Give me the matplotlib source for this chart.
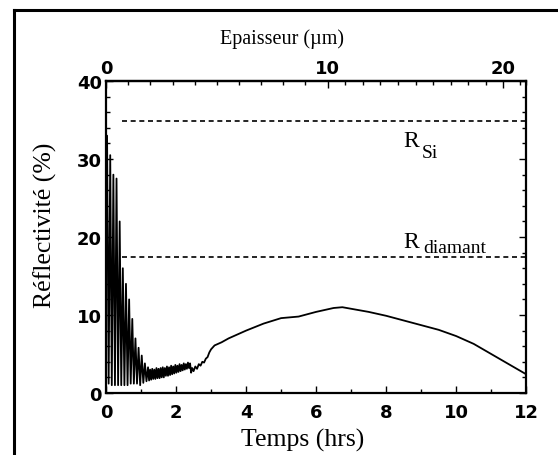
import numpy as np
import matplotlib
matplotlib.use("Agg")
import matplotlib.pyplot as plt
from matplotlib.ticker import MultipleLocator
from matplotlib.lines import Line2D

# ---- data ----
temps = [0.00, 0.03, 0.075, 0.12, 0.165, 0.21, 0.255, 0.30, 0.345, 0.39, 0.435,
         0.48, 0.525, 0.57, 0.615, 0.66, 0.705, 0.75, 0.795, 0.84, 0.885, 0.93,
         0.975, 1.02, 1.065, 1.11, 1.155, 1.20,
         1.23, 1.26, 1.29, 1.32, 1.35, 1.38, 1.41, 1.44, 1.47, 1.50, 1.53, 1.56,
         1.59, 1.62, 1.65, 1.68, 1.71, 1.74, 1.77, 1.80, 1.83, 1.86, 1.89, 1.92,
         1.95, 1.98, 2.01, 2.04, 2.07, 2.10, 2.13, 2.16, 2.19, 2.22, 2.25, 2.28,
         2.31, 2.34, 2.37, 2.40, 2.43, 2.46, 2.50, 2.55, 2.60, 2.65, 2.70, 2.75,
         2.80, 2.85, 2.90, 2.95, 3.00, 3.10, 3.30, 3.50, 4.00, 4.50, 5.00, 5.50,
         6.00, 6.50, 6.75, 7.00, 7.50, 8.00, 8.50, 9.00, 9.50, 10.00, 10.50,
         11.00, 11.50, 12.00]
reflectivite = [15.0, 33.0, 1.2, 30.5, 1.0, 28.0, 1.0, 27.5, 1.0, 22.0, 1.0,
                16.0, 1.0, 14.0, 1.0, 12.0, 1.2, 9.5, 1.2, 7.0, 1.2, 5.8,
                1.0, 4.8, 1.3, 3.8, 1.5, 3.3,
                1.6, 3.0, 1.7, 3.1, 1.8, 3.0, 1.8, 3.2, 1.9, 3.1, 1.9, 3.2,
                2.0, 3.3, 2.0, 3.2, 2.2, 3.4, 2.2, 3.3, 2.3, 3.5, 2.4, 3.4,
                2.5, 3.6, 2.6, 3.5, 2.7, 3.7, 2.8, 3.6, 2.9, 3.8, 3.0, 3.7,
                3.1, 3.9, 3.2, 3.8, 2.6, 3.2, 2.8, 3.4, 3.1, 3.7, 3.5, 4.0,
                3.9, 4.4, 4.6, 5.2, 5.6, 6.1, 6.5, 7.0, 8.0, 8.9, 9.6, 9.8,
                10.4, 10.9, 11.0, 10.8, 10.4, 9.9, 9.3, 8.7, 8.1, 7.3, 6.3,
                5.0, 3.7, 2.4]

R_si = 34.9
R_diamant = 17.4
ref_start = 0.45

# top axis: thickness (µm) vs time (hrs) read at tick positions
epaisseur_pts = [0.0, 10.0, 20.0, 21.4]
epaisseur_temps = [0.0, 6.33, 11.35, 12.0]

x_ticks = [0, 2, 4, 6, 8, 10, 12]
y_ticks = [0, 10, 20, 30, 40]
top_ticks = [0, 10, 20]

# ---- figure ----
fig = plt.figure(figsize=(5.58, 4.56), dpi=100)
ax = fig.add_axes([0.190, 0.136, 0.753, 0.684])

ax.plot(temps, reflectivite, color='black', lw=1.3)
ax.plot([ref_start, 12], [R_si, R_si], color='black', lw=1.2, dashes=(3, 2.2))
ax.plot([ref_start, 12], [R_diamant, R_diamant], color='black', lw=1.2, dashes=(3, 2.2))

serif = 'Liberation Serif'
tick_font = 'DejaVu Sans'
ax.text(8.49, 31.7, 'R', fontsize=17, ha='left', va='baseline', family=serif)
ax.text(9.03, 30.3, 'Si', fontsize=14, ha='left', va='baseline', family=serif)
ax.text(8.49, 18.7, 'R', fontsize=17, ha='left', va='baseline', family=serif)
ax.text(9.06, 18.1, 'diamant', fontsize=14, ha='left', va='baseline', family=serif)

ax.set_xlim(0, 12)
ax.set_ylim(0, 40)
ax.set_xticks(x_ticks)
ax.set_yticks(y_ticks)
ax.xaxis.set_minor_locator(MultipleLocator(1))
ax.yaxis.set_minor_locator(MultipleLocator(2))
ax.tick_params(which='both', direction='in', top=False, right=True,
               labelsize=13, width=1.0)
ax.tick_params(which='major', length=5)
ax.tick_params(which='minor', length=3)
for lab in ax.get_xticklabels() + ax.get_yticklabels():
    lab.set_family(tick_font)
    lab.set_fontweight('bold')
ax.tick_params(axis='x', pad=7)
ax.tick_params(axis='y', pad=3)
for s in ax.spines.values():
    s.set_linewidth(1.6)

ax.set_xlabel('Temps (hrs)', family=serif, fontsize=18.5, labelpad=0)
ax.xaxis.set_label_coords(0.467, -0.111)
ax.set_ylabel('Réflectivité (%)', family=serif, fontsize=18.5)
ax.yaxis.set_label_coords(-0.116, 0.54)


def fwd(t):
    return np.interp(t, epaisseur_temps, epaisseur_pts)


def inv(d):
    return np.interp(d, epaisseur_pts, epaisseur_temps)


sec = ax.secondary_xaxis('top', functions=(fwd, inv))
sec.set_xticks(top_ticks)
sec.xaxis.set_minor_locator(MultipleLocator(1))
sec.tick_params(which='both', direction='in', labelsize=13, width=1.0, pad=3)
sec.tick_params(which='major', length=5)
sec.tick_params(which='minor', length=3)
for lab in sec.get_xticklabels():
    lab.set_family(tick_font)
    lab.set_fontweight('bold')
sec.spines['top'].set_linewidth(1.6)
fig.text(282 / 558, 1 - 39 / 456, 'Epaisseur (µm)', family=serif, fontsize=14.5,
         ha='center', va='center')

# outer frame of the scanned figure
x0 = 14 / 558
y1 = 1 - 11 / 456
fig.add_artist(Line2D([x0, x0], [0, y1], transform=fig.transFigure, color='black', lw=2.2))
fig.add_artist(Line2D([x0, 1], [y1, y1], transform=fig.transFigure, color='black', lw=2.2))

fig.savefig('out.png', dpi=100)
